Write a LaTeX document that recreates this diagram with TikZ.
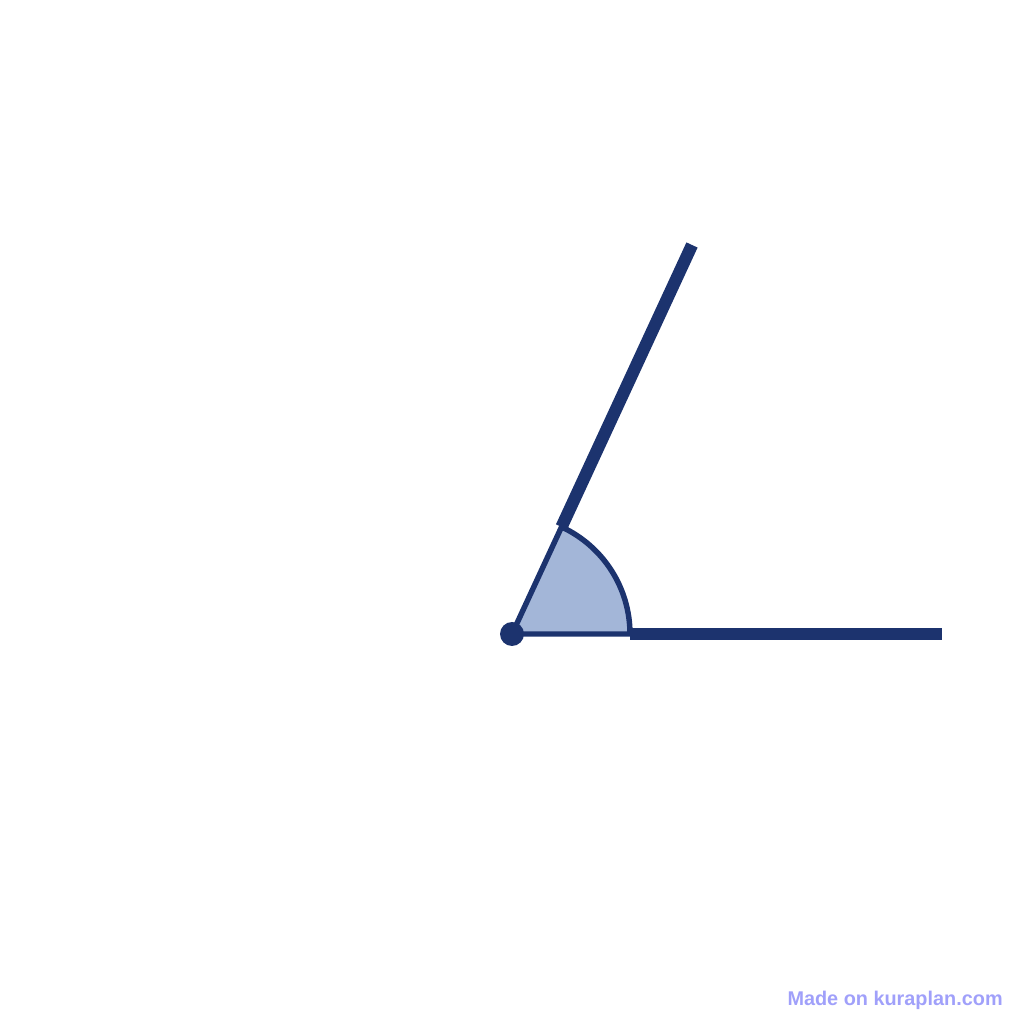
\documentclass[tikz,border=0pt]{standalone}
\usepackage{fontspec}
\setsansfont{Liberation Sans}
\usepackage{xcolor}
\usetikzlibrary{calc}
\definecolor{rayblue}{RGB}{28,51,110}
\definecolor{sectorblue}{RGB}{163,182,216}
\definecolor{markblue}{RGB}{160,160,250}
\begin{document}
\begin{tikzpicture}[
			     x=0.02cm, y=0.02cm,
			     ray/.style={draw=rayblue, line width=7pt},
			     sector/.style={draw=rayblue, fill=sectorblue, line width=3.1pt, line join=round},
			     vertex/.style={circle, fill=rayblue, inner sep=0pt, minimum size=0.48cm}
			     ]
\useasboundingbox (0,0) rectangle (1024,1024);
\coordinate (O) at (512,390);
\coordinate (B) at (942,390);
\coordinate (A) at (692,779);
\coordinate (Ob) at ($(O)+(0:2.36cm)$);
\coordinate (Oa) at ($(O)+(65.17:2.36cm)$);
\path[sector] (O) -- (Ob) arc[start angle=0, end angle=65.17, radius=2.36cm] -- cycle;
\path[ray] (Ob) -- (B);
\path[ray] (Oa) -- (A);
\node[vertex] (o) at (O) {};
\node[anchor=base east, inner sep=0pt, text=markblue, font=\sffamily\bfseries\fontsize{11.3}{13}\selectfont] (mark) at (1003,18) {Made on kuraplan.com};
\end{tikzpicture}
\end{document}
